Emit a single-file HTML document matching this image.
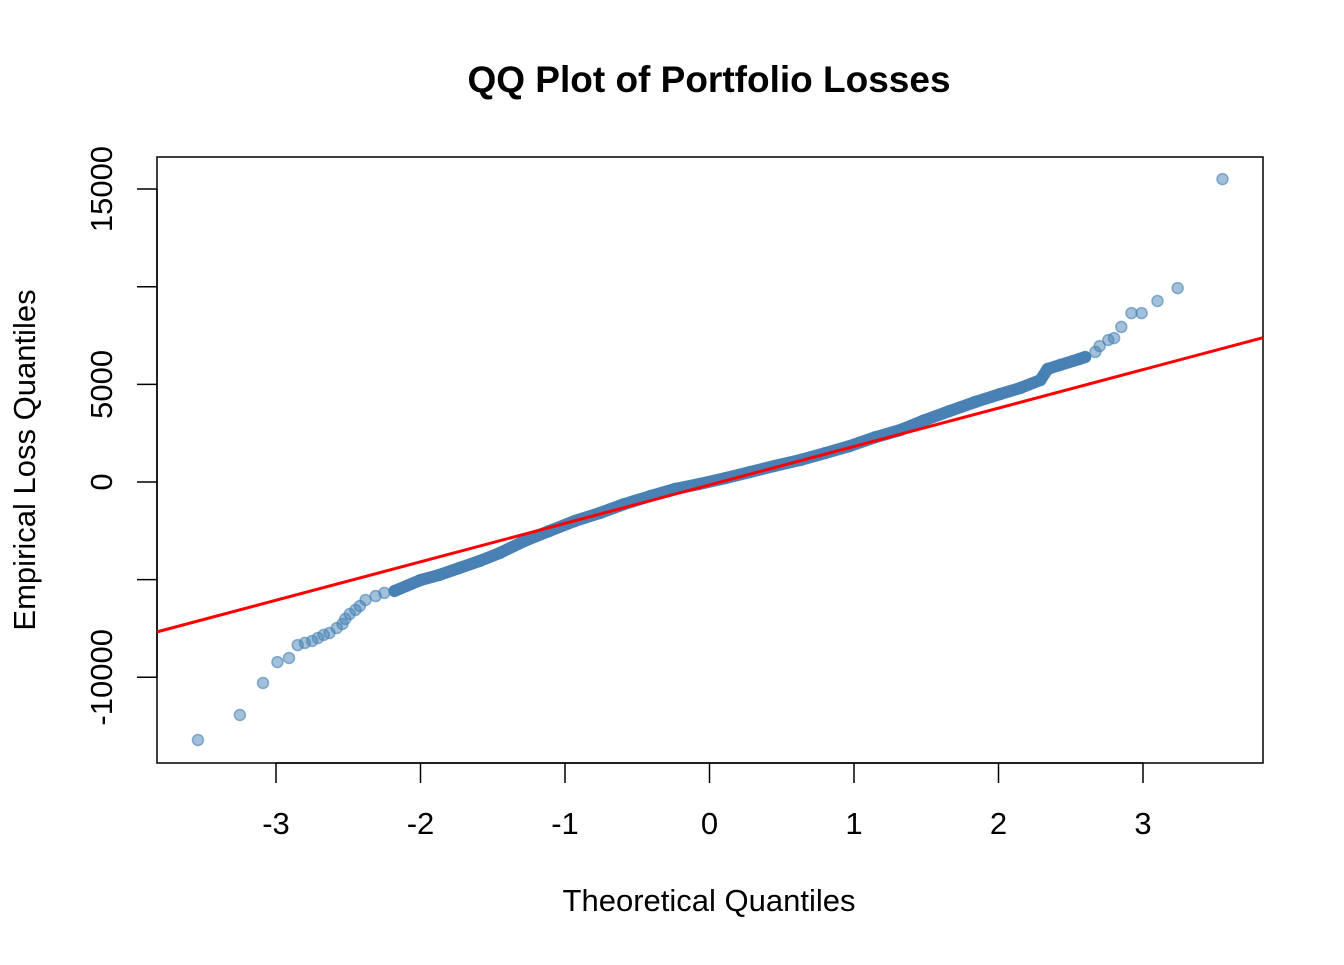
<!DOCTYPE html>
<html><head><meta charset="utf-8"><style>
body{margin:0;background:#fff;}
svg text{font-family:"Liberation Sans",Arial,sans-serif;fill:#000;}
</style></head><body>
<svg id="chart" width="1344" height="960" xmlns="http://www.w3.org/2000/svg">
<text x="709" y="92" text-anchor="middle" font-size="37" font-weight="bold">QQ Plot of Portfolio Losses</text>
<rect x="157" y="157" width="1106" height="606" fill="none" stroke="#000" stroke-width="1.5"/>
<text x="709" y="911" text-anchor="middle" font-size="31">Theoretical Quantiles</text>
<text transform="translate(35,460) rotate(-90)" text-anchor="middle" font-size="31">Empirical Loss Quantiles</text>
<g id="axes"></g>
<g id="band"></g>
<g id="pts"></g>
<g id="line"></g>
</svg>
<script>
const theoretical=[-3.54,-3.25,-3.09,-2.99,-2.91,-2.85,-2.80,-2.75,-2.71,-2.67,-2.63,-2.58,-2.54,-2.52,-2.49,-2.45,-2.42,-2.38,-2.31,-2.25,-2.18,
-2.00,-1.87,-1.73,-1.59,-1.45,-1.28,-1.11,-0.93,-0.76,-0.59,-0.41,-0.24,-0.07,0.11,0.28,0.45,0.63,0.80,0.97,1.15,1.32,1.49,1.66,1.84,2.01,2.15,2.29,2.34,2.43,2.56,
2.60,2.67,2.70,2.76,2.80,2.85,2.92,2.99,3.10,3.24,3.55];
const losses=[-13210,-11930,-10290,-9220,-9010,-8350,-8240,-8140,-7990,-7830,-7730,-7480,-7270,-7010,-6760,-6550,-6350,-6040,-5840,-5680,-5580,
-5020,-4760,-4400,-4040,-3630,-3020,-2510,-1990,-1590,-1130,-720,-360,-100,200,510,820,1130,1480,1840,2300,2660,3170,3630,4100,4500,4810,5220,5790,6000,6300,
6400,6660,6960,7270,7370,7940,8650,8650,9270,9930,15510];
const xTicks=[-3,-2,-1,0,1,2,3];
const yTicks=[-10000,-5000,0,5000,10000,15000];
const yLabels=["-10000","","0","5000","","15000"];
const lineIntercept=-150, lineSlope=1968;
const xs=v=>709.5+v*144.5, ys=v=>482-v*0.01953;
const NS="http://www.w3.org/2000/svg";
function mk(tag,attrs,parent){const e=document.createElementNS(NS,tag);for(const k in attrs)e.setAttribute(k,attrs[k]);parent.appendChild(e);return e;}
const axes=document.getElementById('axes');
mk('line',{x1:xs(xTicks[0]),x2:xs(xTicks[xTicks.length-1]),y1:763,y2:763,stroke:'#000','stroke-width':1.5},axes);
xTicks.forEach(t=>{
 const l=mk('line',{x1:xs(t),x2:xs(t),y1:763,y2:783,stroke:'#000','stroke-width':1.5},axes);
 
 
 const tx=mk('text',{x:xs(t),y:834,'text-anchor':'middle','font-size':31},axes);tx.textContent=t;
 
 
});
mk('line',{x1:157,x2:157,y1:ys(yTicks[0]),y2:ys(yTicks[yTicks.length-1]),stroke:'#000','stroke-width':1.5},axes);
yTicks.forEach((t,i)=>{
 const l=mk('line',{x1:137,x2:157,y1:ys(t),y2:ys(t),stroke:'#000','stroke-width':1.5},axes);
 
 
 if(yLabels[i]){const tx=mk('text',{transform:`translate(112,${ys(t)}) rotate(-90)`,'text-anchor':'middle','font-size':31},axes);tx.textContent=yLabels[i];
 
 }
});
const band=document.getElementById('band');
let d='';theoretical.forEach((t,i)=>{if(t>=-2.2&&t<=2.6)d+=(d?'L':'M')+xs(t)+','+ys(losses[i]);});
const bp=mk('path',{d:d,fill:'none',stroke:'#4a80b4','stroke-width':12,'stroke-linejoin':'round','stroke-linecap':'round'},band);


const pts=document.getElementById('pts');
theoretical.forEach((t,i)=>{
 const c=mk('circle',{cx:xs(t),cy:ys(losses[i]),r:5.5,fill:'rgba(70,130,180,0.5)',stroke:'rgba(70,130,180,0.6)','stroke-width':1.5},pts);
 
 
});
const ln=mk('line',{x1:157,x2:1263,y1:ys(lineIntercept+lineSlope*(157-709.5)/144.5),y2:ys(lineIntercept+lineSlope*(1263-709.5)/144.5),stroke:'#ff0000','stroke-width':3},document.getElementById('line'));


</script>
</body></html>
